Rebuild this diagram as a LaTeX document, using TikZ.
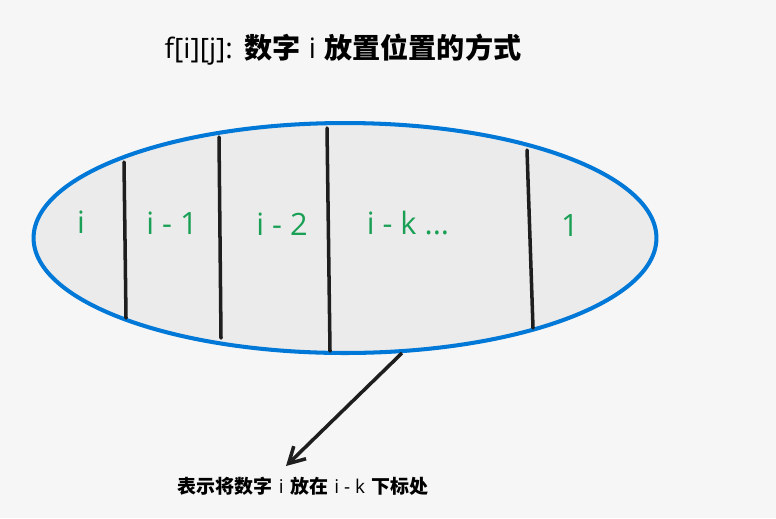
\documentclass[tikz,border=0pt]{standalone}
\usepackage{fontspec}
\newfontfamily\cjk{Noto Sans CJK SC}
\newfontfamily\hand{Open Sans}
\usepackage{tikz}
\usetikzlibrary{positioning,shapes.geometric,arrows.meta}
\definecolor{bgcol}{RGB}{246,246,246}
\definecolor{cellcol}{RGB}{235,235,235}
\definecolor{ringcol}{RGB}{0,120,215}
\definecolor{labcol}{RGB}{25,160,85}
\definecolor{inkcol}{RGB}{30,30,30}
\newcommand{\hz}[1]{{\cjk\bfseries #1}}

\begin{document}
\begin{tikzpicture}[x=0.02cm,y=-0.02cm,
  cell/.style={text=labcol, font=\hand\fontsize{17.5}{20}\selectfont},
  wall/.style={draw=inkcol, line width=2pt, line cap=round}]
\useasboundingbox[fill=bgcol] (0,0) rectangle (776,518);

\node[font=\fontsize{16}{19}\selectfont] (title) at (343,50) {{\hand f[i][j]:} \hz{数字} {\hand i} \hz{放置位置的方式}};

\node[draw=ringcol, line width=2.3pt, fill=cellcol, ellipse, inner sep=0pt, minimum width=12.46cm, minimum height=4.6cm] (pool) at (345,238) {};
\foreach \xa/\ya/\xb/\yb in {124/162/126/318, 219/137/221/338, 327/128/330/351, 527/150/533/328}
  \draw[wall] (\xa,\ya) -- (\xb,\yb);

\node[cell] (ci) at (81,222) {i};
\node[cell] (ci1) at (172,223) {i - 1};
\node[cell] (ci2) at (282,224) {i - 2};
\node[cell] (cik) at (408,223) {i - k ...};
\node[cell] (cone) at (570,226) {1};

\coordinate (tail) at (402,353);
\coordinate (tip) at (286,466);
\draw[draw=inkcol, line width=2pt, -{Straight Barb[length=9pt,width=10pt]}] (tail) -- (tip);

\node[font=\fontsize{10.8}{13}\selectfont] (note) at (303,486) {\hz{表示将数字} {\hand i} \hz{放在} {\hand i - k} \hz{下标处}};
\end{tikzpicture}
\end{document}
